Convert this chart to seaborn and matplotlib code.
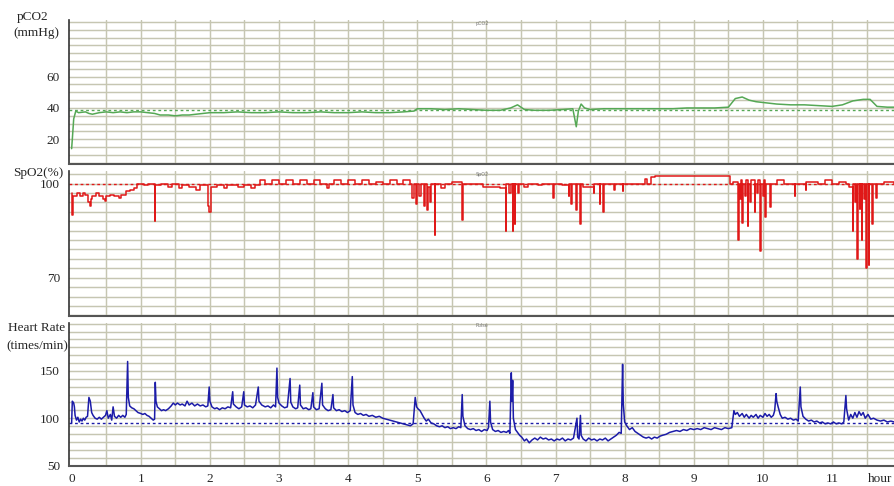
import numpy as np
import pandas as pd
import matplotlib
matplotlib.use("Agg")
import matplotlib.pyplot as plt
import seaborn as sns

sns.set_style("white")
plt.rcParams['font.family'] = ['Liberation Serif', 'DejaVu Serif']

# ---------------- data (hours, value) ----------------
hour_ticks = list(range(12))

pco2 = [(0, 14), (0.01, 20), (0.03, 33), (0.06, 38), (0.1, 37), (0.2, 37.5), (0.25, 36.5), (0.3, 36),
        (0.4, 37), (0.5, 37.5), (0.6, 37), (0.7, 37.5), (0.8, 37), (0.9, 37.5), (1.0, 37.5), (1.1, 37),
        (1.2, 36.5), (1.28, 35.5), (1.4, 35.5), (1.5, 35), (1.6, 35.5), (1.7, 35.5), (1.8, 36), (1.9, 36.5),
        (2.0, 37), (2.2, 37), (2.4, 37.5), (2.6, 37), (2.8, 37), (3.0, 37.5), (3.2, 37), (3.4, 37),
        (3.6, 37.5), (3.8, 37), (4.0, 37), (4.2, 37.5), (4.4, 37), (4.6, 37), (4.8, 37.5), (4.95, 38),
        (5.0, 39.5), (5.2, 39.5), (5.4, 39), (5.6, 39.5), (5.8, 39), (6.0, 38.5), (6.2, 38.5), (6.35, 40),
        (6.45, 42), (6.55, 39), (6.7, 38.5), (6.9, 38.5), (7.1, 39), (7.25, 39.5), (7.3, 28), (7.33, 38),
        (7.37, 42.5), (7.42, 40), (7.5, 39), (7.7, 39.5), (7.9, 39.5), (8.1, 39.5), (8.3, 39.5), (8.5, 39.5),
        (8.7, 39.5), (8.9, 40), (9.1, 40), (9.3, 40), (9.5, 40.5), (9.6, 46), (9.7, 47), (9.8, 45),
        (9.9, 44), (10.0, 43.5), (10.2, 42.5), (10.4, 42), (10.6, 42), (10.8, 41.5), (11.0, 41),
        (11.15, 42), (11.3, 44.5), (11.45, 45.5), (11.55, 45.5), (11.65, 41), (11.8, 40.5), (11.9, 40.5)]

spo2 = [(0, 97), (0.01, 90), (0.02, 96), (0.08, 97), (0.12, 96), (0.16, 97), (0.2, 96.5), (0.24, 94),
        (0.26, 93), (0.28, 95), (0.3, 96), (0.35, 97), (0.4, 96), (0.45, 95), (0.48, 94.5), (0.5, 96),
        (0.55, 96.5), (0.62, 96), (0.68, 95.5), (0.72, 96.5), (0.78, 97.5), (0.84, 98), (0.9, 98.5),
        (0.95, 100), (1.05, 99.5), (1.1, 100), (1.2, 88), (1.21, 99.5), (1.3, 100), (1.4, 99), (1.45, 100),
        (1.55, 98.5), (1.6, 99.5), (1.7, 99), (1.8, 98), (1.85, 99.5), (1.97, 93), (1.99, 91), (2.01, 99),
        (2.1, 99.5), (2.2, 98.5), (2.25, 99.5), (2.4, 99), (2.5, 99.5), (2.6, 98.5), (2.65, 99.5),
        (2.72, 101), (2.8, 100), (2.9, 101), (3.0, 100), (3.1, 101), (3.2, 100), (3.3, 101), (3.4, 100),
        (3.5, 101), (3.6, 100), (3.7, 98.5), (3.72, 100), (3.8, 101), (3.9, 100), (4.0, 101), (4.1, 100),
        (4.2, 101), (4.3, 100), (4.4, 100.5), (4.5, 100), (4.6, 101), (4.7, 100), (4.8, 101), (4.9, 100),
        (4.93, 95.5), (4.95, 100), (4.98, 93.5), (5.0, 100), (5.03, 96), (5.05, 100), (5.1, 93), (5.11, 100),
        (5.14, 91.5), (5.15, 99), (5.18, 94), (5.2, 100), (5.25, 83.5), (5.26, 100), (5.35, 98.5), (5.4, 100),
        (5.5, 100.5), (5.65, 88.5), (5.66, 100), (5.8, 100), (5.95, 99), (6.1, 99), (6.2, 98.5), (6.28, 85),
        (6.29, 100), (6.33, 97), (6.35, 100), (6.38, 85), (6.39, 100), (6.41, 87), (6.42, 100), (6.45, 97),
        (6.47, 100), (6.55, 99), (6.6, 100), (6.75, 99.5), (6.8, 100), (6.97, 95.5), (6.98, 100), (7.1, 99.5),
        (7.19, 96), (7.2, 100), (7.23, 93.5), (7.24, 100), (7.3, 91.5), (7.31, 100), (7.36, 87), (7.37, 100),
        (7.4, 99), (7.55, 97), (7.56, 100), (7.64, 93.5), (7.65, 100), (7.69, 91), (7.7, 100), (7.85, 98),
        (7.86, 100), (7.97, 97.5), (7.98, 100), (8.1, 100), (8.3, 101.5), (8.32, 100), (8.38, 102),
        (8.44, 102.3), (9.53, 100), (9.57, 100.5), (9.64, 82), (9.65, 100), (9.67, 95), (9.68, 101),
        (9.7, 87.5), (9.71, 100), (9.74, 96), (9.75, 101), (9.78, 86.5), (9.79, 100), (9.82, 94), (9.83, 101),
        (9.88, 91), (9.89, 100), (9.92, 97), (9.93, 101), (9.96, 78.5), (9.97, 100), (10.0, 96), (10.01, 101),
        (10.03, 89.5), (10.04, 100), (10.1, 92.5), (10.11, 100), (10.2, 101), (10.3, 100), (10.46, 96),
        (10.47, 100), (10.62, 98), (10.63, 100.5), (10.8, 100), (10.9, 101), (11.0, 100), (11.1, 100.5),
        (11.2, 100), (11.25, 99), (11.3, 85), (11.31, 100), (11.33, 94), (11.34, 100), (11.36, 76),
        (11.37, 100), (11.4, 92), (11.41, 100), (11.43, 82), (11.44, 100), (11.46, 95), (11.47, 100),
        (11.49, 73), (11.5, 100), (11.53, 74), (11.54, 100), (11.58, 87), (11.59, 100), (11.64, 95.5),
        (11.65, 100), (11.75, 100.5), (11.9, 100)]

heart_rate = [(0, 95), (0.01, 118), (0.03, 116), (0.04, 112), (0.05, 103), (0.07, 98), (0.09, 101), (0.11, 96),
      (0.13, 99), (0.15, 97), (0.17, 100), (0.19, 98), (0.21, 101), (0.23, 102),
      (0.25, 122), (0.27, 118), (0.29, 106), (0.31, 103), (0.34, 100), (0.37, 99), (0.4, 101), (0.43, 99),
      (0.46, 101), (0.49, 103), (0.51, 108), (0.53, 100), (0.56, 104), (0.58, 98), (0.6, 112), (0.62, 102),
      (0.65, 100), (0.68, 103), (0.71, 101), (0.74, 103), (0.77, 101), (0.79, 104),
      (0.81, 160), (0.82, 122), (0.84, 113), (0.87, 111), (0.9, 110), (0.93, 108), (0.96, 106), (1.0, 105),
      (1.03, 104), (1.06, 105), (1.09, 103), (1.12, 102), (1.15, 100), (1.18, 98), (1.2, 99),
      (1.21, 138), (1.22, 118), (1.24, 112), (1.27, 110), (1.3, 108), (1.33, 109), (1.36, 108), (1.4, 110),
      (1.44, 113), (1.47, 116), (1.5, 114), (1.53, 116), (1.57, 114), (1.6, 115), (1.64, 113), (1.67, 118),
      (1.7, 114), (1.74, 116), (1.78, 113), (1.82, 115), (1.86, 113), (1.9, 114), (1.94, 112), (1.97, 113),
      (1.99, 133), (2.0, 118), (2.03, 112), (2.07, 110), (2.1, 111), (2.14, 109), (2.18, 111), (2.22, 110),
      (2.26, 112), (2.3, 111),
      (2.33, 128), (2.34, 115), (2.38, 112), (2.42, 110), (2.46, 112),
      (2.49, 128), (2.5, 114), (2.54, 112), (2.58, 113), (2.62, 111), (2.66, 114),
      (2.7, 133), (2.71, 118), (2.75, 114), (2.8, 112), (2.84, 113), (2.88, 111), (2.92, 114), (2.95, 112),
      (2.97, 153), (2.98, 122), (3.0, 116), (3.04, 113), (3.08, 111), (3.12, 112),
      (3.16, 142), (3.17, 117), (3.2, 112), (3.24, 110), (3.27, 111),
      (3.3, 135), (3.31, 114), (3.35, 110), (3.39, 111), (3.43, 109), (3.46, 110),
      (3.49, 127), (3.5, 112), (3.54, 109), (3.58, 110),
      (3.62, 137), (3.63, 114), (3.67, 110), (3.71, 108), (3.75, 109),
      (3.78, 125), (3.79, 111), (3.83, 108), (3.87, 109), (3.91, 107), (3.95, 108), (3.99, 106), (4.03, 108),
      (4.06, 144), (4.07, 114), (4.1, 106), (4.14, 104), (4.18, 105), (4.22, 103), (4.26, 104), (4.3, 102),
      (4.35, 103), (4.4, 101), (4.45, 102), (4.5, 100), (4.55, 99), (4.6, 98), (4.65, 97), (4.7, 96),
      (4.75, 95), (4.8, 94), (4.85, 93), (4.9, 92), (4.94, 94),
      (4.97, 122), (4.99, 112), (5.01, 110), (5.04, 108), (5.07, 104), (5.1, 100), (5.13, 97), (5.16, 99),
      (5.2, 95), (5.24, 94), (5.28, 92), (5.32, 91), (5.36, 92), (5.4, 90), (5.44, 91), (5.48, 89),
      (5.52, 90), (5.56, 89), (5.6, 91), (5.63, 90),
      (5.65, 125), (5.66, 102), (5.69, 92), (5.73, 89), (5.77, 88), (5.81, 89), (5.85, 87), (5.89, 88),
      (5.93, 86), (5.97, 88), (6.01, 87), (6.03, 90),
      (6.05, 118), (6.06, 96), (6.09, 88), (6.13, 86), (6.17, 87), (6.21, 85), (6.25, 86), (6.29, 85),
      (6.32, 87), (6.34, 84),
      (6.36, 148), (6.37, 118), (6.38, 140), (6.39, 100), (6.42, 88), (6.45, 85), (6.48, 82), (6.51, 80),
      (6.55, 76), (6.58, 78), (6.62, 74), (6.66, 77), (6.7, 79), (6.74, 77), (6.78, 80), (6.82, 78),
      (6.86, 79), (6.9, 77), (6.94, 78), (6.98, 76), (7.02, 78), (7.06, 77), (7.1, 79), (7.14, 76),
      (7.18, 78), (7.22, 77), (7.26, 79),
      (7.31, 100), (7.32, 80), (7.34, 78), (7.36, 103), (7.37, 82), (7.4, 78), (7.44, 76), (7.48, 79),
      (7.52, 77), (7.56, 78), (7.6, 76), (7.64, 78), (7.68, 77), (7.72, 79), (7.76, 76), (7.8, 78),
      (7.84, 80), (7.88, 82), (7.92, 85), (7.95, 84),
      (7.97, 157), (7.98, 115), (8.0, 96), (8.03, 92), (8.07, 88), (8.11, 90), (8.15, 86), (8.19, 84),
      (8.23, 82), (8.27, 80), (8.31, 79), (8.35, 80), (8.39, 78), (8.43, 80), (8.47, 79), (8.51, 81),
      (8.55, 82), (8.6, 83), (8.65, 85), (8.7, 86), (8.75, 87), (8.8, 86), (8.85, 88), (8.9, 87),
      (8.95, 89), (9.0, 88), (9.05, 89), (9.1, 88), (9.15, 90), (9.2, 89), (9.25, 88), (9.3, 90),
      (9.35, 89), (9.4, 88), (9.45, 90), (9.5, 89), (9.55, 90),
      (9.58, 108), (9.6, 104), (9.63, 106), (9.66, 102), (9.7, 105), (9.73, 101), (9.76, 104), (9.8, 100),
      (9.83, 103), (9.86, 101), (9.9, 104), (9.93, 100), (9.96, 103), (10.0, 101), (10.03, 105),
      (10.06, 102), (10.09, 104), (10.12, 101), (10.15, 103), (10.17, 108),
      (10.19, 126), (10.2, 118), (10.22, 112), (10.25, 104), (10.28, 100), (10.32, 101), (10.36, 99),
      (10.4, 100), (10.44, 98), (10.48, 99), (10.51, 97),
      (10.54, 133), (10.55, 112), (10.58, 102), (10.62, 99), (10.66, 97), (10.7, 98), (10.74, 96),
      (10.78, 97), (10.82, 95), (10.86, 96), (10.9, 94), (10.94, 95), (10.98, 94), (11.02, 96),
      (11.06, 94), (11.1, 95), (11.14, 94), (11.17, 96),
      (11.2, 124), (11.21, 110), (11.24, 98), (11.27, 104), (11.3, 100), (11.33, 106), (11.36, 101),
      (11.39, 107), (11.42, 103), (11.45, 106), (11.48, 100), (11.52, 104), (11.56, 99), (11.6, 100),
      (11.65, 98), (11.7, 97), (11.75, 98), (11.8, 96), (11.85, 97), (11.9, 96)]

pco2_ref, spo2_ref, hr_ref = 39, 100, 95
pco2_yticks = [20, 40, 60]
spo2_yticks = [70, 100]
hr_yticks = [50, 100, 150]
panel_tags = ["pCO2", "SpO2", "Pulse"]

# ---------------- layout ----------------
W, H = 894, 486
fig = plt.figure(figsize=(W / 100, H / 100), dpi=100)


def add_ax(top, bottom):
    return fig.add_axes([69 / W, 1 - bottom / H, (W - 69) / W, (bottom - top) / H])


ax1 = add_ax(20, 164)
ax2 = add_ax(171, 316)
ax3 = add_ax(322.7, 465.5)

grid_color = "#c6c6b2"
panels = [
    (ax1, pco2, "#55a855", pco2_ref, pco2_yticks, (4.2, 96.2), np.arange(5, 96, 5), None, panel_tags[0]),
    (ax2, spo2, "#e01818", spo2_ref, spo2_yticks, (57.8, 104), np.arange(58, 104, 3), "steps-post", panel_tags[1]),
    (ax3, heart_rate, "#1c1ca8", hr_ref, hr_yticks, (50, 201), np.arange(50, 201, 150 / 18), None, panel_tags[2]),
]

for ax, data, color, ref, yticks, ylim, ygrid, ds, tag in panels:
    df = pd.DataFrame(data, columns=["t", "v"])
    kw = dict(drawstyle=ds) if ds else {}
    sns.lineplot(data=df, x="t", y="v", ax=ax, color=color, lw=1.1,
                 estimator=None, sort=False, **kw)
    ax.axhline(ref, color=color, lw=1.0, ls=(0, (2, 2)), zorder=1.5)
    ax.set_xlim(-0.038, 11.896)
    ax.set_ylim(*ylim)
    for g in ygrid:
        ax.axhline(g, color=grid_color, lw=1.05, zorder=0)
    for g in np.arange(0.5, 12, 0.5):
        ax.axvline(g, color=grid_color, lw=1.05, zorder=0)
    ax.set_yticks(yticks)
    ax.set_xticks(hour_ticks)
    ax.set_xlabel("")
    ax.set_ylabel("")
    ax.tick_params(axis="both", which="major", direction="out", length=2.5, width=1,
                   color="#333333", labelsize=9.5, pad=4)
    ax.tick_params(axis="x", pad=3)
    for s in ["top", "right"]:
        ax.spines[s].set_visible(False)
    ax.spines["left"].set_color("#333333")
    ax.spines["left"].set_linewidth(1.2)
    ax.spines["bottom"].set_color("#555555")
    ax.spines["bottom"].set_linewidth(1.5)
    ax.text((482 - 69) / (W - 69), 0.995, tag, transform=ax.transAxes, ha="center", va="top",
            fontsize=3.5, color="#777777", family="DejaVu Sans")

ax1.set_xticklabels([])
ax2.set_xticklabels([])

fs = 9.5
fig.text(33 / W, 1 - 17 / H, "pCO2", ha="center", va="center", fontsize=fs)
fig.text(36 / W, 1 - 33 / H, "(mmHg)", ha="center", va="center", fontsize=fs)
fig.text(38 / W, 1 - 173 / H, "SpO2(%)", ha="center", va="center", fontsize=fs)
fig.text(37 / W, 1 - 328 / H, "Heart Rate", ha="center", va="center", fontsize=fs)
fig.text(37 / W, 1 - 346 / H, "(times/min)", ha="center", va="center", fontsize=fs)
fig.text(880 / W, 1 - 479 / H, "hour", ha="center", va="center", fontsize=fs)

fig.savefig("out.png", dpi=100)
